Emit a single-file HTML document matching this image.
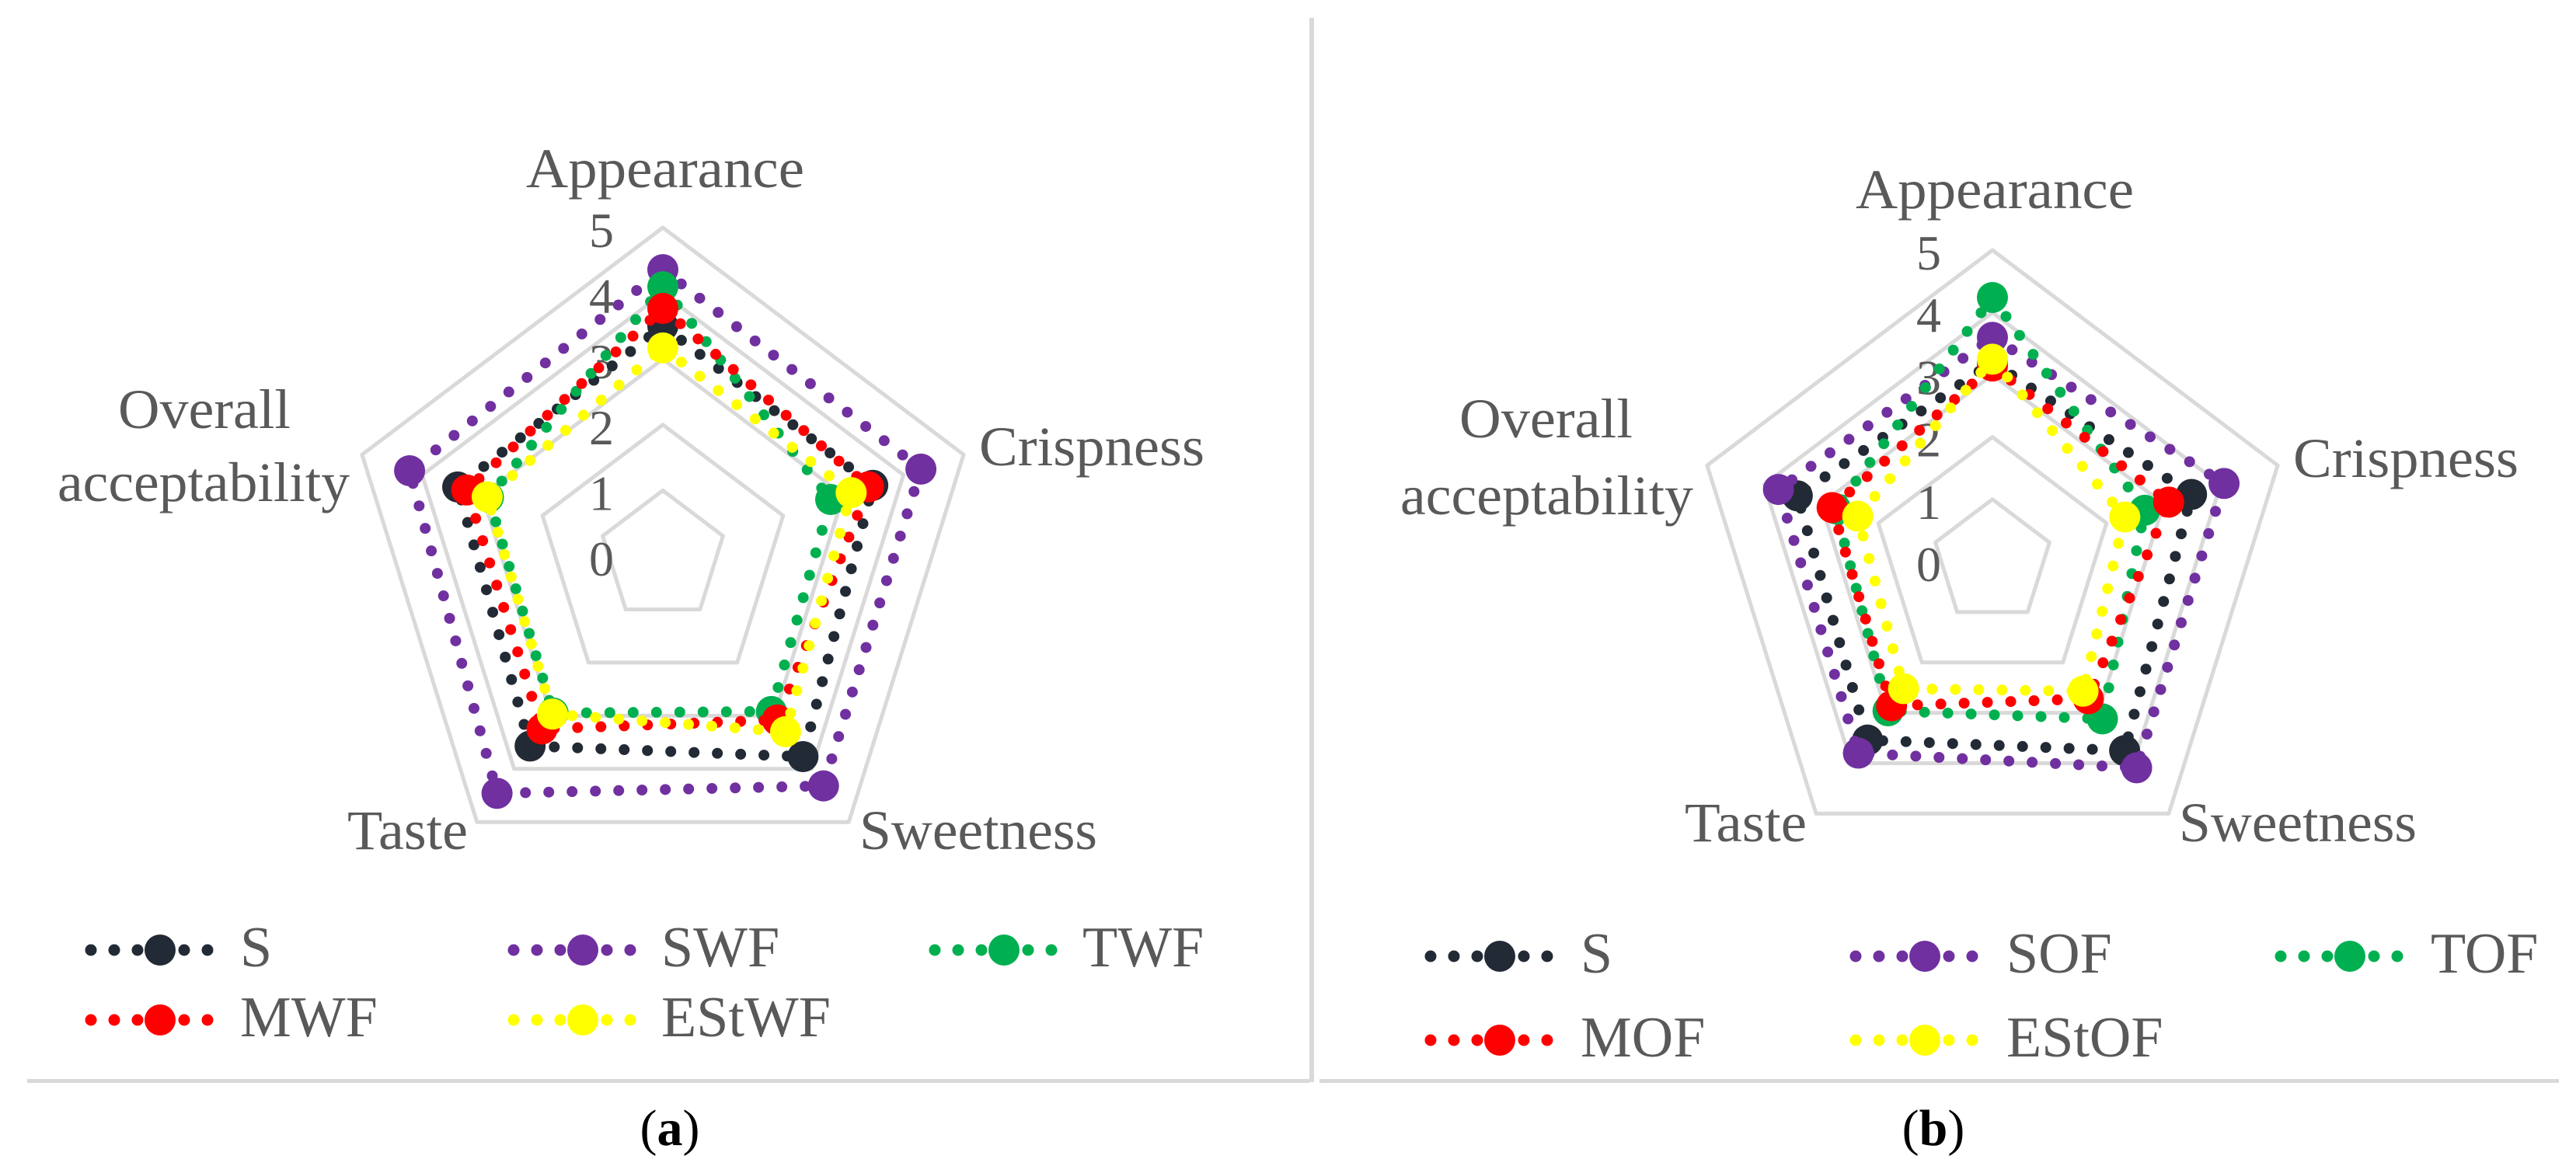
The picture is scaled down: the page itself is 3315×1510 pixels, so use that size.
<!DOCTYPE html>
<html><head><meta charset="utf-8">
<style>
html,body{margin:0;padding:0;background:#fff;}
svg{display:block;}
svg text{font-family:"Liberation Serif",serif;fill:#595959;}
</style></head>
<body>
<svg id="fig" width="3315" height="1510" viewBox="0 0 3315 1510" xmlns="http://www.w3.org/2000/svg" font-family="Liberation Serif, serif">
<rect x="0" y="0" width="3315" height="1510" fill="#fff"/>
<rect x="1685" y="23" width="6" height="1370" fill="#d9d9d9"/>
<rect x="35" y="1389" width="1650" height="5" fill="#d9d9d9"/>
<rect x="1698" y="1389" width="1595" height="5" fill="#d9d9d9"/>
<text x="862" y="1474" text-anchor="middle" font-size="66" font-family="Liberation Serif, serif" style="fill:#000">(<tspan font-weight="bold">a</tspan>)</text>
<text x="2488" y="1474" text-anchor="middle" font-size="66" font-family="Liberation Serif, serif" style="fill:#000">(<tspan font-weight="bold">b</tspan>)</text>
<g id="chartA"></g>
<g id="chartB"></g>
</svg>
<script>
// ---- data ----
const categories = ["Appearance","Crispness","Sweetness","Taste","Overall acceptability"];
const ticks = [0,1,2,3,4,5];
const seriesNamesA = ["S","SWF","TWF","MWF","EStWF"];
const seriesNamesB = ["S","SOF","TOF","MOF","EStOF"];
const colors = ["#222a35","#7030a0","#00b050","#ff0000","#ffff00"];
const aS     = [3.50, 3.49, 3.77, 3.57, 3.41];
const aSWF   = [4.36, 4.29, 4.32, 4.46, 4.21];
const aTWF   = [4.10, 2.79, 2.92, 2.95, 2.90];
const aMWF   = [3.77, 3.42, 3.08, 3.25, 3.26];
const aEStWF = [3.17, 3.13, 3.30, 2.97, 2.92];
const bS     = [3.20, 3.49, 3.75, 3.54, 3.42];
const bSOF   = [3.60, 4.06, 4.09, 3.80, 3.75];
const bTOF   = [4.24, 2.67, 3.12, 2.96, 2.75];
const bMOF   = [3.14, 3.09, 2.72, 2.86, 2.81];
const bEStOF = [3.25, 2.32, 2.57, 2.52, 2.36];

const NS="http://www.w3.org/2000/svg";
const FONT="Liberation Serif, serif";
function mk(tag, attrs, parent){
  const e=document.createElementNS(NS,tag);
  for(const k in attrs) e.setAttribute(k,attrs[k]);
  parent.appendChild(e); return e;
}

function drawRadar(g, cfg, seriesVals, names){
  const cx=cfg.cx, cy=cfg.cy, rx=cfg.rx, ry=cfg.ry, vmax=5;
  const ang=i=> -Math.PI/2 + i*2*Math.PI/5;
  const pt=(i,v)=>[cx+Math.cos(ang(i))*rx*v/vmax, cy+Math.sin(ang(i))*ry*v/vmax];
  for(let t=1;t<ticks.length;t++){
    const v=ticks[t];
    const p=categories.map((c,i)=>pt(i,v).join(",")).join(" ");
    const ring=mk("polygon",{points:p,fill:"none",stroke:"#d9d9d9","stroke-width":5,"stroke-linejoin":"round"},g);
    
    
  }
  ticks.forEach(v=>{
    const t=mk("text",{x:cfg.tickX,y:cy - v*ry/vmax + 25,"text-anchor":"end","font-size":64,"font-family":FONT,fill:"#595959"},g);
    t.textContent=v;
    
    
  });
  cfg.labels.forEach((L,i)=>{
    L.lines.forEach((ln,j)=>{
      const t=mk("text",{x:ln.x,y:ln.y,"font-size":72,"font-family":FONT,fill:"#595959",textLength:ln.w,lengthAdjust:"spacingAndGlyphs"},g);
      t.textContent=ln.s;
      
      
    });
  });
  seriesVals.forEach((vals,s)=>{
    const sg=mk("g",{},g);
    
    
    const p=vals.map((v,i)=>pt(i,v).join(",")).join(" ");
    const line=mk("polygon",{points:p,fill:"none",stroke:colors[s],"stroke-width":14,"stroke-linecap":"round","stroke-dasharray":"0 30"},sg);
    
    
    vals.forEach((v,i)=>{
      const q=pt(i,v);
      const c=mk("circle",{cx:q[0],cy:q[1],r:20,fill:colors[s]},sg);
      
      
    });
  });
  cfg.legend.forEach((L,s)=>{
    const lg=mk("g",{},g);
    
    
    const l=mk("line",{x1:L.x,y1:L.y,x2:L.x+158,y2:L.y,stroke:colors[s],"stroke-width":15,"stroke-linecap":"round","stroke-dasharray":"0 30"},lg);
    
    
    const c=mk("circle",{cx:L.x+89,cy:L.y,r:20,fill:colors[s]},lg);
    
    
    const t=mk("text",{x:L.tx,y:L.y+21,"font-size":74,"font-family":FONT,fill:"#595959"},lg);
    t.textContent=names[s];
    
    
  });
}

drawRadar(document.getElementById("chartA"),{
  cx:853, cy:716, rx:407, ry:423, tickX:790,
  labels:[
    {lines:[{s:"Appearance",x:677,y:241,w:358}]},
    {lines:[{s:"Crispness",x:1260,y:599,w:290}]},
    {lines:[{s:"Sweetness",x:1106,y:1093,w:306}]},
    {lines:[{s:"Taste",x:447,y:1093,w:155}]},
    {lines:[{s:"Overall",x:152,y:551,w:222},{s:"acceptability",x:74,y:645,w:376}]}
  ],
  legend:[
    {x:117,y:1223,tx:309},{x:661,y:1223,tx:851},{x:1203,y:1223,tx:1393},
    {x:117,y:1313,tx:309},{x:661,y:1313,tx:851}
  ]
},[aS,aSWF,aTWF,aMWF,aEStWF],seriesNamesA);

drawRadar(document.getElementById("chartB"),{
  cx:2564, cy:723, rx:386, ry:401, tickX:2498,
  labels:[
    {lines:[{s:"Appearance",x:2388,y:268,w:358}]},
    {lines:[{s:"Crispness",x:2951,y:614,w:290}]},
    {lines:[{s:"Sweetness",x:2804,y:1083,w:306}]},
    {lines:[{s:"Taste",x:2168,y:1083,w:157}]},
    {lines:[{s:"Overall",x:1878,y:563,w:223},{s:"acceptability",x:1802,y:662,w:377}]}
  ],
  legend:[
    {x:1841,y:1231,tx:2034},{x:2388,y:1231,tx:2582},{x:2935,y:1231,tx:3128},
    {x:1841,y:1339,tx:2034},{x:2388,y:1339,tx:2582}
  ]
},[bS,bSOF,bTOF,bMOF,bEStOF],seriesNamesB);
</script>
</body></html>
